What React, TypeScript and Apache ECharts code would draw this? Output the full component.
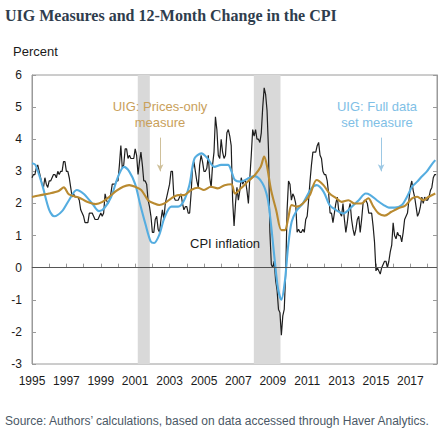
import React, { useEffect, useRef } from "react";
import * as echarts from "echarts";

// 12-month change in the CPI, monthly from Jan 1995
const cpiStartYear = 1995;
const cpiMonthly = [
  2.8, 2.9, 2.9, 3.1, 3.2, 3.0, 2.8, 2.6, 2.5, 2.8, 2.6, 2.5,
  2.7, 2.7, 2.8, 2.9, 2.9, 2.8, 3.0, 2.9, 3.0, 3.0, 3.3, 3.3,
  3.0, 3.0, 2.8, 2.5, 2.2, 2.3, 2.2, 2.2, 2.2, 2.1, 1.8, 1.7,
  1.6, 1.4, 1.4, 1.4, 1.7, 1.7, 1.7, 1.6, 1.5, 1.5, 1.5, 1.6,
  1.7, 1.6, 1.7, 2.3, 2.1, 2.0, 2.1, 2.3, 2.6, 2.6, 2.6, 2.7,
  2.7, 3.2, 3.8, 3.1, 3.2, 3.7, 3.7, 3.4, 3.5, 3.4, 3.4, 3.4,
  3.7, 3.5, 2.9, 3.3, 3.6, 3.2, 2.7, 2.7, 2.6, 2.1, 1.9, 1.6,
  1.1, 1.1, 1.5, 1.6, 1.2, 1.1, 1.5, 1.8, 1.5, 2.0, 2.2, 2.4,
  2.6, 3.0, 3.0, 2.2, 2.1, 2.1, 2.1, 2.2, 2.3, 2.0, 1.8, 1.9,
  1.9, 1.7, 1.7, 2.3, 3.1, 3.3, 3.0, 2.7, 2.5, 3.2, 3.5, 3.3,
  3.0, 3.0, 3.1, 3.5, 2.8, 2.5, 3.2, 3.6, 4.7, 4.3, 3.5, 3.4,
  4.0, 3.6, 3.4, 3.5, 4.2, 4.3, 4.1, 3.8, 2.1, 1.3, 2.0, 2.5,
  2.1, 2.4, 2.8, 2.6, 2.7, 2.7, 2.4, 2.0, 2.8, 3.5, 4.3, 4.1,
  4.3, 4.0, 4.0, 3.9, 4.2, 5.0, 5.6, 5.4, 4.9, 3.7, 1.1, 0.1,
  0.0, 0.2, -0.4, -0.7, -1.3, -1.4, -2.1, -1.5, -1.3, -0.2, 1.8, 2.7,
  2.6, 2.1, 2.3, 2.2, 2.0, 1.1, 1.2, 1.1, 1.1, 1.2, 1.1, 1.5,
  1.6, 2.1, 2.7, 3.2, 3.6, 3.6, 3.6, 3.8, 3.9, 3.5, 3.4, 3.0,
  2.9, 2.9, 2.7, 2.3, 1.7, 1.7, 1.4, 1.7, 2.0, 2.2, 1.8, 1.7,
  1.6, 2.0, 1.5, 1.1, 1.4, 1.8, 2.0, 1.5, 1.2, 1.0, 1.2, 1.5,
  1.6, 1.1, 1.5, 2.0, 2.1, 2.1, 2.0, 1.7, 1.7, 1.7, 1.3, 0.8,
  -0.1, 0.0, -0.1, -0.2, 0.0, 0.1, 0.2, 0.2, 0.0, 0.2, 0.5, 0.7,
  1.4, 1.0, 0.9, 1.1, 1.0, 1.0, 0.8, 1.1, 1.5, 1.6, 1.7, 2.1,
  2.5, 2.7, 2.4, 2.2, 1.9, 1.6, 1.7, 1.9, 2.2, 2.0, 2.2, 2.1,
  2.1, 2.2, 2.4, 2.5, 2.8, 2.9, 2.9,
];

// UIG: Full data set measure
const fullDates = [
  1995.0, 1995.2, 1995.6, 1996.0, 1996.3, 1996.75, 1997.15, 1997.6, 1998.0, 1998.5,
  1998.9, 1999.2, 1999.6, 2000.0, 2000.35, 2000.65, 2001.0, 2001.3, 2001.6, 2001.9,
  2002.1, 2002.4, 2002.7, 2003.1, 2003.5, 2003.8, 2004.15, 2004.45, 2004.85, 2005.2,
  2005.6, 2006.0, 2006.4, 2006.6, 2006.8, 2007.15, 2007.65, 2007.95, 2008.4, 2008.7,
  2008.9, 2009.1, 2009.3, 2009.5, 2009.7, 2009.9, 2010.1, 2010.4, 2010.75, 2011.25,
  2011.55, 2011.95, 2012.3, 2012.6, 2013.1, 2013.6, 2014.0, 2014.4, 2014.65, 2015.05,
  2015.45, 2015.75, 2016.1, 2016.5, 2016.8, 2017.1, 2017.4, 2017.65, 2017.95, 2018.25,
  2018.45,
];
const fullValues = [
  3.25, 3.2, 2.57, 1.8, 1.6, 1.76, 2.1, 2.42, 2.3, 2.0,
  1.76, 1.85, 2.2, 2.83, 3.14, 3.0, 2.6, 1.95, 1.35, 0.82,
  0.77, 1.02, 1.55, 1.9, 1.9, 2.05, 2.57, 3.4, 3.56, 3.41,
  3.14, 3.2, 3.2, 3.0, 2.73, 2.68, 2.8, 2.85, 2.63, 2.16,
  1.33, 0.3, -0.64, -1.0, -0.44, 0.7, 1.43, 1.79, 2.0, 2.47,
  2.57, 2.37, 1.95, 1.82, 1.69, 1.9, 2.1, 2.31, 2.27, 2.1,
  1.95, 1.87, 1.87, 1.95, 2.2, 2.52, 2.68, 2.83, 2.99, 3.22,
  3.35,
];

// UIG: Prices-only measure
const pricesDates = [
  1995.0, 1995.4, 1996.0, 1996.55, 1996.85, 1997.15, 1997.75, 1998.2, 1998.7, 1999.1,
  1999.5, 1999.9, 2000.3, 2000.65, 2001.0, 2001.35, 2001.75, 2002.1, 2002.4, 2002.7,
  2003.1, 2003.5, 2003.85, 2004.25, 2004.65, 2005.0, 2005.4, 2005.8, 2006.2, 2006.6,
  2006.8, 2007.15, 2007.55, 2007.95, 2008.3, 2008.5, 2008.65, 2008.9, 2009.2, 2009.5,
  2009.7, 2009.9, 2010.1, 2010.4, 2010.75, 2011.15, 2011.55, 2011.95, 2012.3, 2012.7,
  2013.0, 2013.4, 2013.75, 2014.15, 2014.55, 2014.85, 2015.15, 2015.5, 2015.9, 2016.3,
  2016.7, 2017.1, 2017.4, 2017.75, 2018.05, 2018.45,
];
const pricesValues = [
  2.2, 2.25, 2.31, 2.39, 2.5, 2.28, 2.18, 2.05, 1.98, 2.05,
  2.21, 2.39, 2.52, 2.57, 2.52, 2.42, 2.1, 2.0, 1.95, 2.0,
  2.16, 2.26, 2.26, 2.42, 2.49, 2.42, 2.52, 2.47, 2.57, 2.6,
  2.31, 2.47, 2.68, 2.88, 3.14, 3.46, 3.2, 2.42, 1.79, 1.17,
  1.17, 1.54, 1.95, 1.9, 2.0, 2.26, 2.73, 2.57, 2.31, 2.16,
  2.05, 2.1, 2.0, 2.0, 2.16, 1.9, 1.69, 1.62, 1.74, 1.85,
  1.93, 2.16, 2.21, 2.1, 2.2, 2.31,
];

// Recession periods (shaded)
const recessions = [
  [2001.15, 2001.85],
  [2007.9, 2009.45],
];

const xMin = 1995;
const xMax = 2018.55;
const yMin = -3;
const yMax = 6;

const titleText = "UIG Measures and 12-Month Change in the CPI";
const sourceText = "Source: Authors\u2019 calculations, based on data accessed through Haver Analytics.";
const unitText = "Percent";
const pricesLabel = "UIG: Prices-only\nmeasure";
const fullLabel = "UIG: Full data\nset measure";
const cpiLabel = "CPI inflation";

const FONT = "'Liberation Sans', Arial, sans-serif";

export default function App() {
  const ref = useRef<HTMLDivElement>(null);
  useEffect(() => {
    if (!ref.current) return;
    const chart = echarts.init(ref.current, null, { renderer: "svg" });
    const cpiData = cpiMonthly.map((v, i) => [cpiStartYear + i / 12, v]);
    const fullData = fullDates.map((d, i) => [d, fullValues[i]]);
    const pricesData = pricesDates.map((d, i) => [d, pricesValues[i]]);

    const axisGray = "#9a9a9a";
    chart.setOption({
      animation: false,
      textStyle: { fontFamily: FONT },
      grid: {
        left: 32,
        right: 9,
        top: 75,
        bottom: 77,
        show: true,
        borderColor: axisGray,
        borderWidth: 1,
      },
      xAxis: {
        type: "value",
        min: xMin,
        max: xMax,
        interval: 1,
        axisLine: { show: true, lineStyle: { color: axisGray } },
        axisTick: { show: true, inside: true, length: 4, lineStyle: { color: axisGray } },
        splitLine: { show: false },
        axisLabel: {
          color: "#1a1a1a",
          fontSize: 12,
          fontFamily: FONT,
          margin: 11,
          showMaxLabel: false,
          formatter: (v: number) =>
            Number.isInteger(v) && (v - xMin) % 2 === 0 ? String(v) : "",
        },
      },
      yAxis: [
        {
          type: "value",
          min: yMin,
          max: yMax,
          interval: 1,
          position: "left",
          axisLine: { show: true, lineStyle: { color: axisGray } },
          axisTick: { show: true, inside: true, length: 4, lineStyle: { color: axisGray } },
          splitLine: { show: false },
          axisLabel: { color: "#1a1a1a", fontSize: 12, fontFamily: FONT, margin: 10 },
        },
        {
          type: "value",
          min: yMin,
          max: yMax,
          interval: 1,
          position: "right",
          axisLine: { show: true, lineStyle: { color: axisGray } },
          axisTick: { show: true, inside: true, length: 4, lineStyle: { color: axisGray } },
          splitLine: { show: false },
          axisLabel: { show: false },
        },
      ],
      series: [
        {
          name: "bands",
          type: "line",
          data: cpiData,
          showSymbol: false,
          silent: true,
          z: 1,
          lineStyle: { opacity: 0 },
          markArea: {
            silent: true,
            itemStyle: { color: "#d9d9d9" },
            data: recessions.map((r) => [{ xAxis: r[0] }, { xAxis: r[1] }]),
          },
          markLine: {
            silent: true,
            symbol: ["none", "none"],
            label: { show: false },
            lineStyle: { color: "#555555", width: 1, type: "solid" },
            data: [{ yAxis: 0 }],
          },
        },
        {
          name: "CPI inflation",
          type: "line",
          data: cpiData,
          showSymbol: false,
          z: 3,
          lineStyle: { color: "#1e1e1e", width: 1.2 },
        },
        {
          name: "UIG: Full data set measure",
          type: "line",
          data: fullData,
          showSymbol: false,
          smooth: 0.3,
          z: 4,
          lineStyle: { color: "#55ade0", width: 2.1 },
          markLine: {
            silent: true,
            symbol: ["none", "arrow"],
            symbolSize: [5, 7],
            label: { show: false },
            lineStyle: { color: "#9cc8e4", width: 1, type: "solid" },
            data: [[{ coord: [2015.3, 4.05] }, { coord: [2015.3, 3.0] }]],
          },
        },
        {
          name: "UIG: Prices-only measure",
          type: "line",
          data: pricesData,
          showSymbol: false,
          smooth: 0.3,
          z: 5,
          lineStyle: { color: "#b98a30", width: 2.1 },
          markLine: {
            silent: true,
            symbol: ["none", "arrow"],
            symbolSize: [5, 7],
            label: { show: false },
            lineStyle: { color: "#cfc09a", width: 1, type: "solid" },
            data: [[{ coord: [2002.45, 4.05] }, { coord: [2002.45, 3.0] }]],
          },
        },
      ],
      graphic: [
        {
          type: "text",
          left: 5,
          top: 7,
          z: 100,
          style: {
            text: titleText,
            fill: "#2f3d4d",
            font: "bold 16px 'Liberation Serif', Georgia, serif",
          },
        },
        {
          type: "text",
          left: 13,
          top: 45,
          z: 100,
          style: { text: unitText, fill: "#1a1a1a", font: `13px ${FONT}` },
        },
        {
          type: "text",
          x: 160,
          y: 98,
          z: 100,
          style: {
            text: pricesLabel,
            fill: "#c9a05a",
            font: `13px ${FONT}`,
            align: "center",
            lineHeight: 16,
          },
        },
        {
          type: "text",
          x: 377,
          y: 98,
          z: 100,
          style: {
            text: fullLabel,
            fill: "#7fc0e6",
            font: `13px ${FONT}`,
            align: "center",
            lineHeight: 16,
          },
        },
        {
          type: "text",
          x: 190,
          y: 237,
          z: 100,
          style: { text: cpiLabel, fill: "#1a1a1a", font: `13px ${FONT}` },
        },
        {
          type: "text",
          left: 5,
          top: 415,
          z: 100,
          style: { text: sourceText, fill: "#4b5866", font: `12px ${FONT}` },
        },
      ],
    });
    return () => chart.dispose();
  }, []);
  return (
    <div
      ref={ref}
      style={{ position: "fixed", left: 0, top: 0, width: 446, height: 441, background: "#fff" }}
    />
  );
}
